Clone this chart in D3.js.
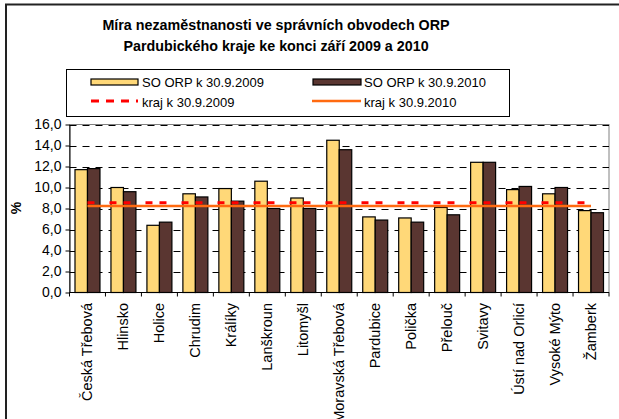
<!DOCTYPE html>
<html>
<head>
<meta charset="utf-8">
<script src="https://cdn.jsdelivr.net/npm/d3@7"></script>
<style>
  body { margin: 0; background: #fff; }
  svg { display: block; font-family: 'Liberation Sans', Arial, sans-serif; }
</style>
</head>
<body>
<svg width="619" height="419"></svg>
<script>
'use strict';

const categories = ['Česká Třebová', 'Hlinsko', 'Holice', 'Chrudim', 'Králíky', 'Lanškroun', 'Litomyšl',
  'Moravská Třebová', 'Pardubice', 'Polička', 'Přelouč', 'Svitavy', 'Ústí nad Orlicí', 'Vysoké Mýto', 'Žamberk']
const so2009 = [11.7, 10.0, 6.4, 9.4, 9.9, 10.6, 9.0, 14.5, 7.2, 7.1, 8.1, 12.4, 9.8, 9.4, 7.8]
const so2010 = [11.8, 9.6, 6.7, 9.1, 8.7, 8.0, 8.0, 13.6, 6.9, 6.7, 7.4, 12.4, 10.1, 10.0, 7.6]
const kraj2009 = [8.55, 8.55, 8.55, 8.55, 8.55, 8.55, 8.55, 8.55, 8.55, 8.55, 8.55, 8.55, 8.55, 8.55, 8.55]
const kraj2010 = [8.25, 8.25, 8.25, 8.25, 8.25, 8.25, 8.25, 8.25, 8.25, 8.25, 8.25, 8.25, 8.25, 8.25, 8.25]
const yTicks = [0, 2, 4, 6, 8, 10, 12, 14, 16]
const titleLines = ['Míra nezaměstnanosti ve správních obvodech ORP', 'Pardubického kraje ke konci září 2009 a 2010']
const seriesNames = ['SO ORP k 30.9.2009', 'SO ORP k 30.9.2010', 'kraj k 30.9.2009', 'kraj k 30.9.2010']

const yellow = '#FFD878'
const brown = '#5A3631'
const red = '#FF0000'
const orange = '#FF6A10'

const svg = d3.select('svg')
const plot = {left: 69.5, right: 609, top: 124.5, bottom: 292.5}

// outer chart frame (runs off the picture on right and bottom)
svg.append('rect')
  .attr('x', 6).attr('y', 4.5).attr('width', 700).attr('height', 500)
  .attr('fill', '#fff').attr('stroke', '#222').attr('stroke-width', 2)

// title
svg.append('g').selectAll('text')
  .data(titleLines)
  .enter().append('text')
  .attr('x', 276)
  .attr('y', (d, i) => 30 + i * 20.5)
  .attr('text-anchor', 'middle')
  .attr('font-size', '14.3px')
  .attr('font-weight', 'bold')
  .text((d) => d)

const x = d3.scaleBand().domain(categories).range([plot.left, plot.right])
const xs = d3.scaleBand().domain([0, 1]).range([0, x.bandwidth()]).paddingOuter(0.44)
const y = d3.scaleLinear().domain([0, 16]).range([plot.bottom, plot.top])

// plot border
svg.append('rect')
  .attr('x', plot.left).attr('y', plot.top)
  .attr('width', plot.right - plot.left).attr('height', plot.bottom - plot.top)
  .attr('fill', 'none').attr('stroke', '#808080')

// gridlines
svg.append('g').selectAll('line')
  .data(yTicks.slice(1))
  .enter().append('line')
  .attr('x1', plot.left).attr('x2', plot.right)
  .attr('y1', (d) => Math.round(y(d)) + 0.5).attr('y2', (d) => Math.round(y(d)) + 0.5)
  .attr('stroke', '#000').attr('stroke-dasharray', '7,6')

// y axis
const yAxis = d3.axisLeft(y).tickValues(yTicks).tickSize(4).tickSizeOuter(0)
  .tickFormat((d) => d3.format('.1f')(d).replace('.', ','))
const gy = svg.append('g').attr('transform', `translate(${plot.left},0)`).call(yAxis)
gy.select('.domain').attr('stroke', '#000')
gy.selectAll('.tick line').attr('stroke', '#000')
gy.selectAll('.tick text').attr('font-size', '14px').attr('font-family', null).attr('fill', '#000').attr('x', -8)

svg.append('text')
  .attr('transform', 'translate(21,208) rotate(-90)')
  .attr('text-anchor', 'middle')
  .attr('font-size', '14px').attr('font-weight', 'bold')
  .text('%')

// bars
const groups = svg.append('g').selectAll('g')
  .data(categories)
  .enter().append('g')
  .attr('transform', (d) => `translate(${x(d)},0)`)

groups.append('rect')
  .attr('x', xs(0)).attr('width', xs.bandwidth())
  .attr('y', (d, i) => y(so2009[i])).attr('height', (d, i) => y(0) - y(so2009[i]))
  .attr('fill', yellow).attr('stroke', '#000').attr('stroke-width', 1.2)
groups.append('rect')
  .attr('x', xs(1)).attr('width', xs.bandwidth())
  .attr('y', (d, i) => y(so2010[i])).attr('height', (d, i) => y(0) - y(so2010[i]))
  .attr('fill', brown).attr('stroke', '#000').attr('stroke-width', 1.2)

// x axis with ticks between categories
svg.append('line')
  .attr('x1', plot.left).attr('x2', plot.right)
  .attr('y1', plot.bottom).attr('y2', plot.bottom)
  .attr('stroke', '#000')
svg.append('g').selectAll('line')
  .data(categories.concat(['end']))
  .enter().append('line')
  .attr('x1', (d, i) => plot.left + i * x.step()).attr('x2', (d, i) => plot.left + i * x.step())
  .attr('y1', plot.bottom).attr('y2', plot.bottom + 4)
  .attr('stroke', '#000')

svg.append('g').selectAll('text')
  .data(categories)
  .enter().append('text')
  .attr('transform', (d) => `translate(${x(d) + x.bandwidth() / 2},303) rotate(-90)`)
  .attr('dy', '0.32em')
  .attr('text-anchor', 'end')
  .attr('font-size', '14.5px')
  .text((d) => d)

// kraj lines
const cx = (d) => x(d) + x.bandwidth() / 2
const line = d3.line()

svg.append('path')
  .attr('d', line(categories.map((c, i) => [cx(c), y(kraj2009[i])])))
  .attr('stroke', red).attr('stroke-width', 3).attr('stroke-dasharray', '7,15,7,7')
  .attr('fill', 'none')

svg.append('path')
  .attr('d', line(categories.map((c, i) => [cx(c), y(kraj2010[i])])))
  .attr('stroke', orange).attr('stroke-width', 2.5).attr('fill', 'none')

// legend
const legend = svg.append('g')
legend.append('rect')
  .attr('x', 66.5).attr('y', 69.5).attr('width', 443).attr('height', 47)
  .attr('fill', '#fff').attr('stroke', '#000')

const legendPos = [[91, 82], [313, 82], [91, 102], [313, 102]]
legend.append('rect').attr('x', 91).attr('y', 79).attr('width', 47).attr('height', 6)
  .attr('fill', yellow).attr('stroke', '#000').attr('stroke-width', 1.2)
legend.append('rect').attr('x', 313).attr('y', 79).attr('width', 48).attr('height', 6)
  .attr('fill', brown).attr('stroke', '#000').attr('stroke-width', 1.2)
legend.append('line').attr('x1', 91).attr('x2', 138).attr('y1', 101).attr('y2', 101)
  .attr('stroke', red).attr('stroke-width', 3).attr('stroke-dasharray', '8,7')
legend.append('line').attr('x1', 312).attr('x2', 361).attr('y1', 101).attr('y2', 101)
  .attr('stroke', orange).attr('stroke-width', 2.5)

legend.selectAll('text.lab')
  .data(seriesNames)
  .enter().append('text').classed('lab', true)
  .attr('x', (d, i) => legendPos[i][0] + 51)
  .attr('y', (d, i) => legendPos[i][1])
  .attr('dy', '0.35em')
  .attr('font-size', '13px')
  .text((d) => d)
</script>
</body>
</html>
